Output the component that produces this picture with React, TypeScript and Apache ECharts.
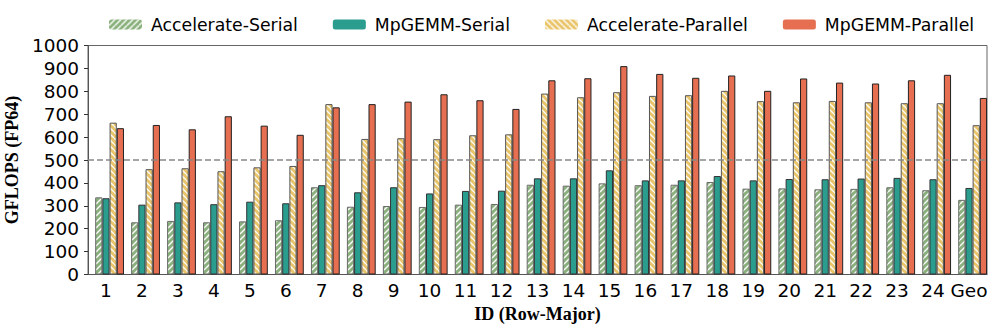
import React, { useEffect, useRef } from 'react';
import * as echarts from 'echarts';

const categories = ['1', '2', '3', '4', '5', '6', '7', '8', '9', '10', '11', '12', '13', '14', '15', '16', '17', '18', '19', '20', '21', '22', '23', '24', 'Geo'];
const accelerateSerial = [337, 228, 234, 228, 232, 237, 381, 296, 299, 295, 305, 308, 392, 388, 398, 390, 392, 404, 375, 376, 372, 374, 381, 368, 326];
const mpgemmSerial = [333, 305, 315, 307, 318, 311, 390, 359, 381, 354, 365, 366, 420, 420, 455, 411, 411, 430, 411, 417, 416, 419, 422, 416, 378];
const accelerateParallel = [663, 460, 464, 451, 468, 474, 744, 592, 595, 591, 608, 612, 790, 774, 796, 780, 783, 802, 757, 752, 758, 752, 748, 748, 652];
const mpgemmParallel = [639, 653, 634, 691, 650, 610, 730, 744, 755, 787, 761, 723, 848, 857, 910, 876, 859, 869, 802, 856, 838, 834, 848, 872, 771];
const seriesNames = ['Accelerate-Serial', 'MpGEMM-Serial', 'Accelerate-Parallel', 'MpGEMM-Parallel'];
const refLine = 500;

function hatch(bg: string, dir: '/' | '\\') {
  const P = 6;
  const c = document.createElement('canvas');
  c.width = P;
  c.height = P;
  const ctx = c.getContext('2d')!;
  ctx.fillStyle = bg;
  ctx.fillRect(0, 0, P, P);
  ctx.strokeStyle = 'rgba(255,255,255,0.95)';
  ctx.lineWidth = 1.4;
  for (const k of [-1, 0, 1]) {
    ctx.beginPath();
    if (dir === '/') {
      ctx.moveTo(k * P, P);
      ctx.lineTo(k * P + P, 0);
    } else {
      ctx.moveTo(k * P, 0);
      ctx.lineTo(k * P + P, P);
    }
    ctx.stroke();
  }
  return { image: c, repeat: 'repeat', imageWidth: P, imageHeight: P } as any;
}

export default function App() {
  const ref = useRef<HTMLDivElement>(null);
  useEffect(() => {
    const chart = echarts.init(ref.current!, null, { renderer: 'svg' });
    const font = 'DejaVu Sans';
    const bw = 7.2;
    const option: any = {
      animation: false,
      backgroundColor: '#fff',
      legend: {
        data: seriesNames,
        left: 104,
        top: 11,
        itemWidth: 33,
        itemHeight: 10,
        itemGap: 35,
        itemStyle: { borderWidth: 0 },
        textStyle: { fontFamily: font, fontSize: 17.3, color: '#000', padding: [0, 0, 0, 4] },
      },
      grid: {
        left: 88,
        right: 9,
        top: 45.5,
        bottom: 58.5,
        outerBoundsMode: 'none',
        containLabel: false,
        show: true,
        borderColor: '#666',
        borderWidth: 1,
        backgroundColor: 'transparent',
      },
      xAxis: {
        type: 'category',
        data: categories,
        axisLine: { lineStyle: { color: '#555', width: 1 } },
        axisTick: { alignWithLabel: true, length: 4, lineStyle: { color: '#333' } },
        axisLabel: { fontFamily: font, fontSize: 18.5, color: '#000', margin: 6, interval: 0, hideOverlap: false },
        name: 'ID (Row-Major)',
        nameLocation: 'middle',
        nameGap: 30,
        nameTextStyle: { fontFamily: 'Liberation Serif', fontWeight: 'bold', fontSize: 18, color: '#000' },
      },
      yAxis: {
        type: 'value',
        min: 0,
        max: 1000,
        interval: 100,
        splitLine: { show: false },
        axisLine: { show: true, lineStyle: { color: '#555', width: 1 } },
        axisTick: { show: true, length: 4, lineStyle: { color: '#333' } },
        axisLabel: { fontFamily: font, fontSize: 18.5, color: '#000', margin: 9, formatter: (v: number) => String(v) },
        name: 'GFLOPS (FP64)',
        nameLocation: 'middle',
        nameGap: 58,
        nameRotate: 90,
        nameTextStyle: { fontFamily: 'Liberation Serif', fontWeight: 'bold', fontSize: 18, color: '#000' },
      },
      series: [
        { type: 'bar', name: '_pad', data: [], barWidth: bw, barGap: '0%' },
        {
          type: 'bar', name: seriesNames[0], data: accelerateSerial, barWidth: bw, barGap: '0%',
          itemStyle: { color: hatch('#8ab17d', '/'), borderColor: '#6a6a6a', borderWidth: 1 },
        },
        {
          type: 'bar', name: seriesNames[1], data: mpgemmSerial, barWidth: bw, barGap: '0%',
          itemStyle: { color: '#2a9d8f', borderColor: '#333', borderWidth: 1 },
        },
        {
          type: 'bar', name: seriesNames[2], data: accelerateParallel, barWidth: bw, barGap: '0%',
          itemStyle: { color: hatch('#e9c46a', '\\'), borderColor: '#555', borderWidth: 1 },
        },
        {
          type: 'bar', name: seriesNames[3], data: mpgemmParallel, barWidth: bw, barGap: '0%',
          itemStyle: { color: '#e76f51', borderColor: '#222', borderWidth: 1 },
          markLine: {
            silent: true,
            symbol: 'none',
            label: { show: false },
            lineStyle: { color: '#888', type: [6, 3], width: 1.5 },
            data: [{ yAxis: refLine }],
          },
        },
      ],
    };
    chart.setOption(option);
    return () => chart.dispose();
  }, []);
  return <div ref={ref} style={{ position: 'fixed', left: 0, top: 0, width: 996, height: 333 }} />;
}
